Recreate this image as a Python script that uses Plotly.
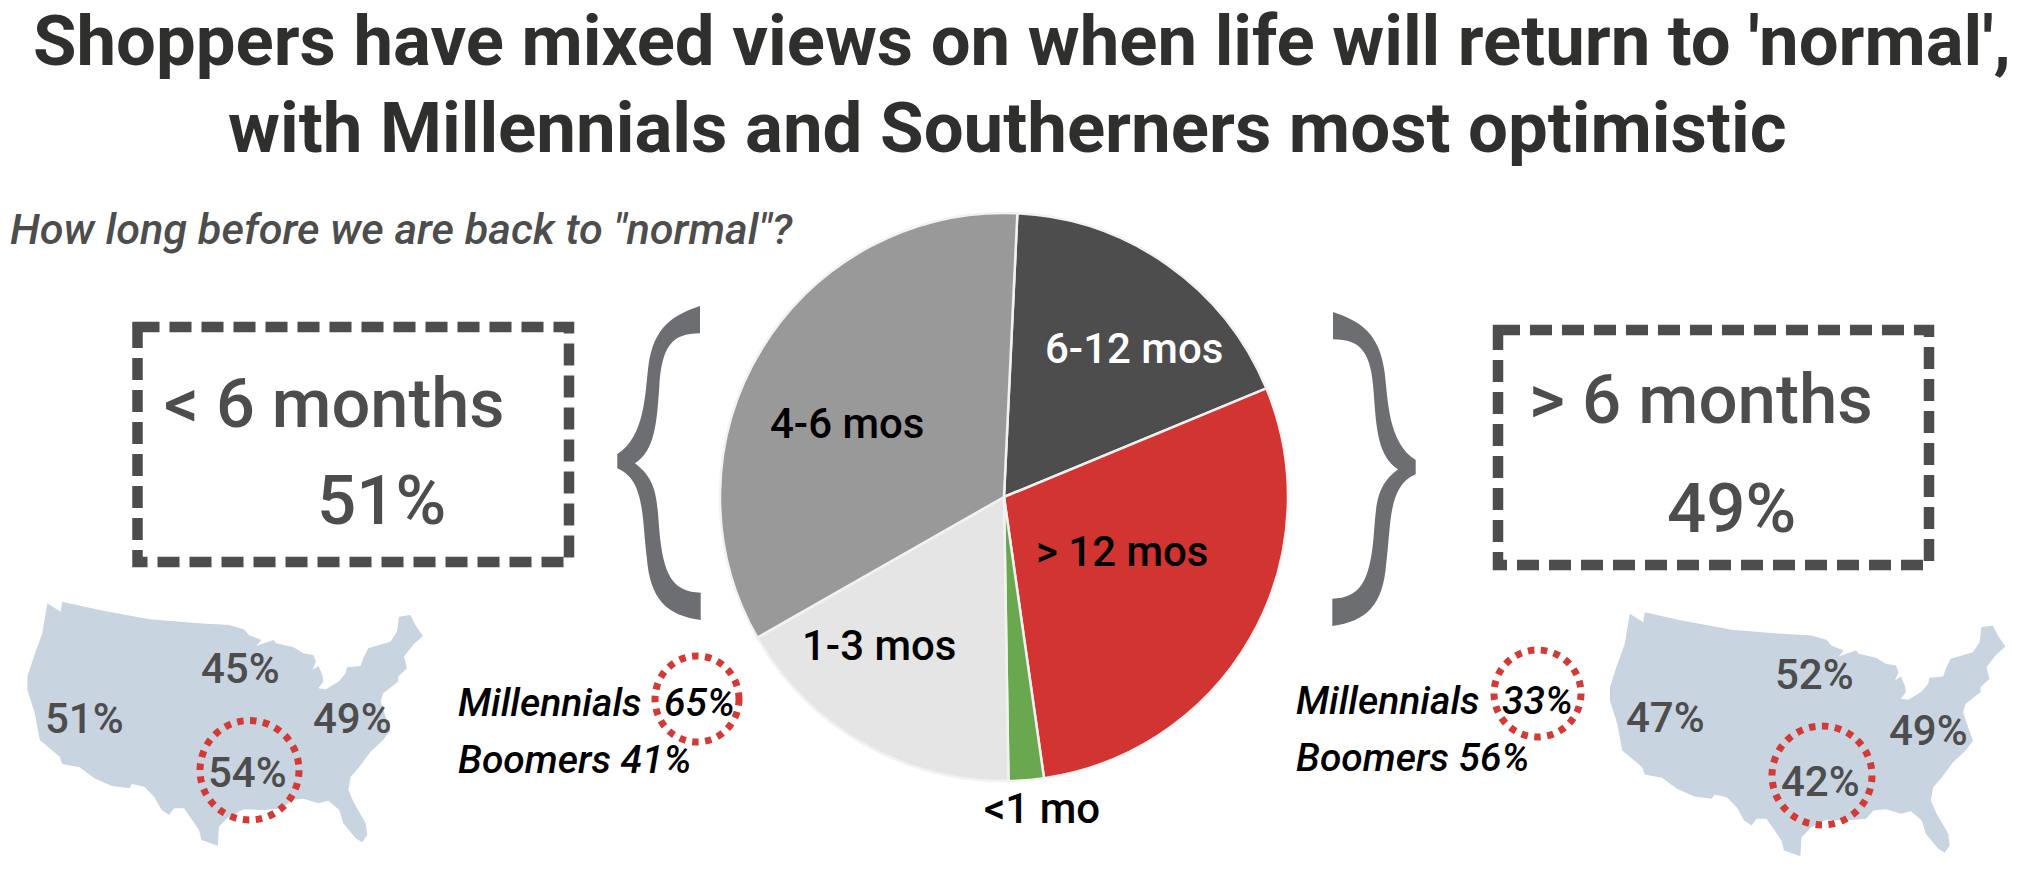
import plotly.graph_objects as go

# Chart data
slice_labels = ["6-12 mos", "> 12 mos", "<1 mo", "1-3 mos", "4-6 mos"]
slice_values = [18, 29, 2, 17, 34]
slice_colors = ["#4d4d4d", "#d13431", "#6aa84f", "#e5e5e5", "#999999"]

W, H = 2044, 894
CX, CY, R = 1004, 497, 284

# text items: text, left x, baseline y, size, colour
pie_texts = [
    ("6-12 mos", 1045, 363, 42, "#ffffff"),
    ("4-6 mos", 770, 438, 42, "#000000"),
    ("> 12 mos", 1036, 566, 42, "#000000"),
    ("1-3 mos", 802, 660, 42, "#000000"),
    ("<1 mo", 984, 823, 42, "#000000"),
]
box_texts = [
    ("< 6 months", 164, 427, 68.5), ("51%", 317, 524, 69),
    ("> 6 months", 1529, 423, 69), ("49%", 1667, 532, 69),
]
region_texts = [
    ("45%", 201, 683), ("51%", 45, 733), ("49%", 313, 733), ("54%", 208, 787),
    ("52%", 1775, 689), ("47%", 1626, 732), ("49%", 1889, 745), ("42%", 1781, 796),
]
age_texts = [
    ("Millennials", 458, 716), ("65%", 664, 716), ("Boomers 41%", 458, 773),
    ("Millennials", 1296, 714), ("33%", 1502, 714), ("Boomers 56%", 1296, 771),
]
title_lines = [
    ("Shoppers have mixed views on when life will return to 'normal',", 33, 65, 70.7),
    ("with Millennials and Southerners most optimistic", 228, 152, 70.8),
]
subtitle = 'How long before we are back to "normal"?'

# outline of the map
map_outline = [
    (95,130),(122,155),(125,125),(200,150),(300,178),(400,190),(460,195),(490,208),(500,225),(525,240),
    (515,258),(530,250),(550,240),(555,250),(590,262),(610,280),(630,285),(635,305),(628,330),(640,318),
    (648,345),(650,365),(640,385),(655,388),(680,365),(695,340),(697,322),(725,318),(730,295),(740,265),
    (785,245),(798,215),(802,170),(825,165),(835,195),(850,228),(830,255),(812,290),(818,325),(800,350),
    (800,365),(770,400),(765,425),(775,470),(785,510),(770,540),(745,575),(720,625),(705,650),(700,690),
    (712,730),(735,790),(738,825),(728,847),(715,835),(690,790),(682,750),(660,722),(640,730),(610,716),
    (585,720),(570,745),(530,750),(490,748),(460,770),(440,800),(438,857),(405,840),(400,810),(370,745),
    (350,745),(340,765),(325,750),(310,710),(290,680),(265,672),(260,685),(225,678),(190,655),(160,622),
    (125,612),(120,590),(80,540),(75,500),(70,460),(55,390),(55,350),(68,290),(85,220),
]
MAP_COLOR = "#c8d4e0"
BRACE_COLOR = "#6d6e71"
TEXT_GRAY = "#4d4d4d"
RED = "#d33a36"


def map_path(dx, dy):
    pts = [(x / 2.01 + dx, y / 3 + 560 + dy) for x, y in map_outline]
    return "M " + " L ".join(f"{x:.1f},{y:.1f}" for x, y in pts) + " Z"


brace_cmds = [
    ("M", [(300,48)]),
    ("C", [(220,75),(160,110),(145,230)]),
    ("C", [(135,310),(135,440),(52,492)]),
    ("L", [(52,535)]),
    ("C", [(135,570),(125,680),(140,800)]),
    ("C", [(150,930),(200,975),(302,990)]),
    ("L", [(302,908)]),
    ("C", [(220,905),(190,860),(178,720)]),
    ("C", [(170,620),(170,570),(105,520)]),
    ("C", [(165,480),(170,400),(178,290)]),
    ("C", [(185,170),(215,130),(300,130)]),
]


def brace_path(fx, fy):
    out = []
    for c, pts in brace_cmds:
        out.append(c + " " + " ".join(f"{fx(x):.1f},{fy(y):.1f}" for x, y in pts))
    return " ".join(out) + " Z"


fig = go.Figure()
fig.add_trace(go.Pie(
    labels=slice_labels, values=slice_values, sort=False, direction="clockwise", rotation=2.7,
    marker=dict(colors=slice_colors, line=dict(color="#f2f2f2", width=2.5)),
    textinfo="none", showlegend=False,
    domain=dict(x=[(CX - R) / W, (CX + R) / W], y=[(H - CY - R) / H, (H - CY + R) / H]),
))

shapes = [
    dict(type="path", path=map_path(0, 0), fillcolor=MAP_COLOR, line=dict(width=0), layer="below"),
    dict(type="path", path=map_path(1582.5, 10.5), fillcolor=MAP_COLOR, line=dict(width=0), layer="below"),
    dict(type="path", path=brace_path(lambda x: 600 + x / 3, lambda y: 290 + y / 3),
         fillcolor=BRACE_COLOR, line=dict(width=0)),
    dict(type="path", path=brace_path(lambda x: 1333 + (300 - x) / 3, lambda y: 296 + y / 3),
         fillcolor=BRACE_COLOR, line=dict(width=0)),
]
for x0, y0, x1, y1 in [(137.5, 327, 569, 562), (1498, 330, 1929, 565)]:
    shapes.append(dict(type="rect", x0=x0, y0=y0, x1=x1, y1=y1,
                       line=dict(color=TEXT_GRAY, width=10.5, dash="22px,10px")))
for x0, y0, x1, y1 in [(200, 720.5, 299, 820), (655, 656, 739, 742),
                       (1494, 650, 1581, 737), (1772, 726, 1872, 825)]:
    shapes.append(dict(type="circle", x0=x0, y0=y0, x1=x1, y1=y1,
                       line=dict(color=RED, width=7, dash="6.5px,6.5px")))


def ann(text, x, base, size, color, italic=False, weight=500, anchor="left"):
    return dict(text=text, x=x, y=base - 0.34 * size, xref="x", yref="y", showarrow=False,
                xanchor=anchor, yanchor="middle", borderpad=0, borderwidth=0,
                font=dict(family="Roboto", size=size, color=color, weight=weight,
                          style="italic" if italic else "normal"))


annotations = []
for t, x, base, size in title_lines:
    annotations.append(ann(t, x, base, size, "#2f2f2d", weight=700))
annotations.append(ann(subtitle, 10, 244, 43.3, TEXT_GRAY, italic=True))
for t, x, base, size, col in pie_texts:
    annotations.append(ann(t, x, base, size, col))
for t, x, base, size in box_texts:
    annotations.append(ann(t, x, base, size, TEXT_GRAY))
for t, x, base in region_texts:
    annotations.append(ann(t, x, base, 42, TEXT_GRAY))
for t, x, base in age_texts:
    annotations.append(ann(t, x, base, 39, "#000000", italic=True))

fig.update_layout(
    width=W, height=H, margin=dict(l=0, r=0, t=0, b=0),
    paper_bgcolor="white", plot_bgcolor="white", showlegend=False,
    xaxis=dict(range=[0, W], visible=False, fixedrange=True),
    yaxis=dict(range=[H, 0], visible=False, fixedrange=True),
    shapes=shapes, annotations=annotations,
)
fig.add_trace(go.Scatter(x=[0, W], y=[0, H], mode="none", hoverinfo="skip", showlegend=False))
fig.write_html("out.html", config={"displayModeBar": False},
               post_script="document.body.style.margin='0';document.documentElement.style.overflow='hidden';")
